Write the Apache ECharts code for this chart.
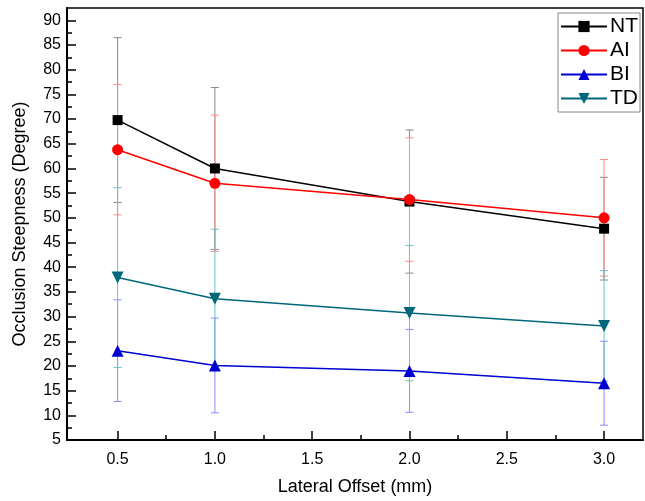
<!DOCTYPE html>
<html>
<head>
<meta charset="utf-8">
<script src="https://cdn.jsdelivr.net/npm/echarts@6/dist/echarts.min.js"></script>
<style>
  html, body { margin: 0; padding: 0; background: #fff; }
  #main { width: 645px; height: 501px; }
</style>
</head>
<body>
<div id="main"></div>
<script>
// lateral offsets (mm)
var offsets = [0.5, 1.0, 2.0, 3.0];
// mean and +/- error per group
var ntMean = [69.8, 60.0, 53.3, 47.8];
var ntErr = [16.7, 16.4, 14.5, 10.4];
var aiMean = [63.8, 57.0, 53.7, 50.0];
var aiErr = [13.2, 13.8, 12.5, 11.8];
var biMean = [23.1, 20.1, 19.0, 16.5];
var biErr = [10.3, 9.6, 8.4, 8.5];
var tdMean = [37.9, 33.6, 30.7, 28.1];
var tdErr = [18.2, 14.1, 13.7, 11.2];
// tick labels
var xMajor = [0.5, 1.0, 1.5, 2.0, 2.5, 3.0];
var xMinor = [0.75, 1.25, 1.75, 2.25, 2.75];
var yMajor = [5, 10, 15, 20, 25, 30, 35, 40, 45, 50, 55, 60, 65, 70, 75, 80, 85, 90];
var yMinor = [7.5, 12.5, 17.5, 22.5, 27.5, 32.5, 37.5, 42.5, 47.5, 52.5, 57.5, 62.5, 67.5, 72.5, 77.5, 82.5, 87.5];

var font = 'Liberation Sans, Arial, sans-serif';

function pts(mean) {
  return offsets.map(function (x, i) { return [x, mean[i]]; });
}
function errPts(mean, err) {
  return offsets.map(function (x, i) { return [x, mean[i] - err[i], mean[i] + err[i]]; });
}

function errorSeries(name, mean, err, color) {
  return {
    name: name + 'err',
    type: 'custom',
    z: 1,
    silent: true,
    data: errPts(mean, err),
    renderItem: function (params, api) {
      var lo = api.coord([api.value(0), api.value(1)]);
      var hi = api.coord([api.value(0), api.value(2)]);
      var w = 4;
      var style = { stroke: color, lineWidth: 1 };
      return {
        type: 'group',
        children: [
          { type: 'line', shape: { x1: lo[0], y1: lo[1], x2: hi[0], y2: hi[1] }, style: style },
          { type: 'line', shape: { x1: lo[0] - w, y1: lo[1], x2: lo[0] + w, y2: lo[1] }, style: style },
          { type: 'line', shape: { x1: hi[0] - w, y1: hi[1], x2: hi[0] + w, y2: hi[1] }, style: style }
        ]
      };
    }
  };
}

function lineSeries(name, mean, color, symbol, size, rotate) {
  return {
    name: name,
    type: 'line',
    z: 3,
    data: pts(mean),
    symbol: symbol,
    symbolSize: size,
    symbolRotate: rotate || 0,
    lineStyle: { color: color, width: 1.5 },
    itemStyle: { color: color },
    emphasis: { disabled: true }
  };
}

var chart = echarts.init(document.getElementById('main'));
var option = {
  animation: false,
  grid: {
    left: 67, right: 2, top: 8, bottom: 61,
    show: true, borderColor: '#000', borderWidth: 1.5
  },
  legend: {
    orient: 'vertical',
    right: 5, top: 13,
    data: ['NT', 'AI', 'BI', 'TD'],
    itemWidth: 46, itemHeight: 14, itemGap: 3,
    padding: [3, 2, 3, 2],
    borderColor: '#888', borderWidth: 1,
    textStyle: { fontFamily: font, fontSize: 21, color: '#000', padding: [0, 0, 0, -2] }
  },
  xAxis: [
    {
      type: 'value', min: 0.24, max: 3.2,
      name: 'Lateral Offset (mm)', nameLocation: 'middle', nameGap: 38,
      nameTextStyle: { fontFamily: font, fontSize: 18, color: '#000' },
      axisLine: { lineStyle: { color: '#000', width: 2 } },
      axisTick: { inside: true, length: 9, lineStyle: { color: '#000', width: 1.5 }, customValues: xMajor },
      axisLabel: {
        customValues: xMajor, fontFamily: font, fontSize: 16, color: '#000', margin: 12,
        formatter: function (v) { return v.toFixed(1); }
      },
      splitLine: { show: false }
    },
    {
      type: 'value', min: 0.24, max: 3.2, position: 'bottom',
      axisLine: { show: false },
      axisTick: { inside: true, length: 5, lineStyle: { color: '#000', width: 1.5 }, customValues: xMinor },
      axisLabel: { show: false },
      splitLine: { show: false }
    }
  ],
  yAxis: [
    {
      type: 'value', min: 5, max: 92.5,
      name: 'Occlusion Steepness (Degree)', nameLocation: 'middle', nameGap: 38,
      nameTextStyle: { fontFamily: font, fontSize: 18, color: '#000' },
      axisLine: { show: true, lineStyle: { color: '#000', width: 2 } },
      axisTick: { show: true, inside: true, length: 9, lineStyle: { color: '#000', width: 1.5 }, customValues: yMajor },
      axisLabel: { customValues: yMajor, fontFamily: font, fontSize: 16, color: '#000', margin: 6 },
      splitLine: { show: false }
    },
    {
      type: 'value', min: 5, max: 92.5, position: 'left',
      axisLine: { show: false },
      axisTick: { show: true, inside: true, length: 5, lineStyle: { color: '#000', width: 1.5 }, customValues: yMinor },
      axisLabel: { show: false },
      splitLine: { show: false }
    }
  ],
  series: [
    errorSeries('NT', ntMean, ntErr, '#8a8a8a'),
    errorSeries('AI', aiMean, aiErr, '#ff8a8a'),
    errorSeries('BI', biMean, biErr, '#8a8aff'),
    errorSeries('TD', tdMean, tdErr, '#6cc0c8'),
    lineSeries('NT', ntMean, '#000000', 'rect', 10),
    lineSeries('AI', aiMean, '#ff0000', 'circle', 11),
    lineSeries('BI', biMean, '#0000d0', 'triangle', 12),
    lineSeries('TD', tdMean, '#00687a', 'triangle', 12, 180)
  ]
};
chart.setOption(option);
</script>
</body>
</html>
